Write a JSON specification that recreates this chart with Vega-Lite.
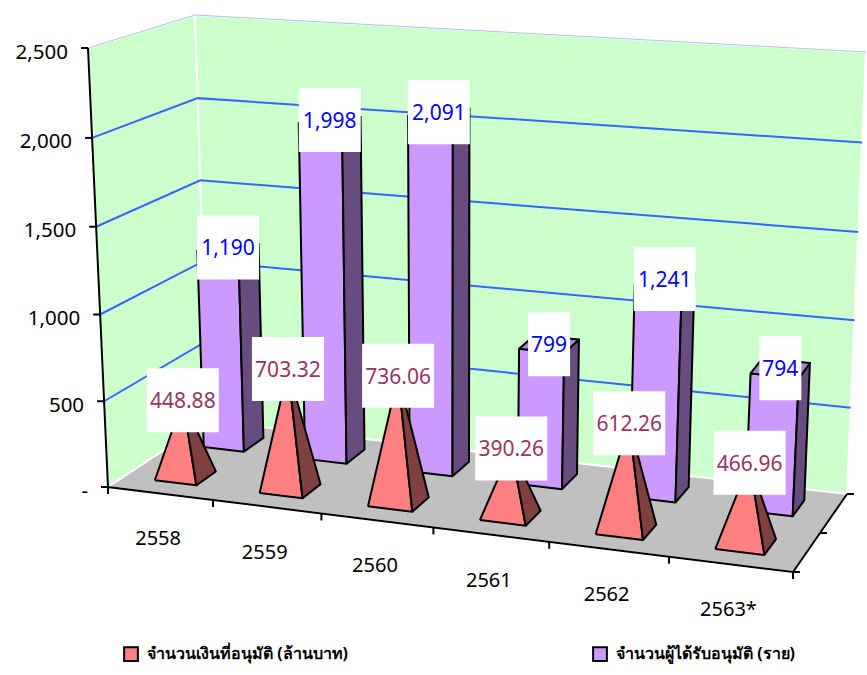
{
"$schema":"https://vega.github.io/schema/vega-lite/v6.json",
"width":867,"height":675,"padding":0,"autosize":{"type":"none"},"background":"white",
"config":{"view":{"stroke":null},"font":"Noto Sans"},
"data":{"values":[
{"part":"left wall","value":2500},{"part":"back wall","value":2500},{"part":"floor","value":2500},
{"part":"grid","value":500},{"part":"grid","value":1000},{"part":"grid","value":1500},{"part":"grid","value":2000},
{"part":"top edge","value":2500},{"part":"axis line","value":2500},
{"part":"value tick","value":0},{"part":"value tick","value":500},{"part":"value tick","value":1000},{"part":"value tick","value":1500},{"part":"value tick","value":2000},{"part":"value tick","value":2500},
{"part":"year tick","at":0},{"part":"year tick","at":1},{"part":"year tick","at":2},{"part":"year tick","at":3},{"part":"year tick","at":4},{"part":"year tick","at":5},{"part":"year tick","at":6},
{"part":"depth tick","at":0},{"part":"depth tick","at":0.5},{"part":"depth tick","at":1},
{"part":"year label","year":"2558"},{"part":"year label","year":"2559"},{"part":"year label","year":"2560"},{"part":"year label","year":"2561"},{"part":"year label","year":"2562"},{"part":"year label","year":"2563*"},
{"part":"bar","year":"2558","series":"จำนวนผู้ได้รับอนุมัติ (ราย)","value":1190},
{"part":"bar","year":"2559","series":"จำนวนผู้ได้รับอนุมัติ (ราย)","value":1998},
{"part":"bar","year":"2560","series":"จำนวนผู้ได้รับอนุมัติ (ราย)","value":2091},
{"part":"bar","year":"2561","series":"จำนวนผู้ได้รับอนุมัติ (ราย)","value":799},
{"part":"bar","year":"2562","series":"จำนวนผู้ได้รับอนุมัติ (ราย)","value":1241},
{"part":"bar","year":"2563*","series":"จำนวนผู้ได้รับอนุมัติ (ราย)","value":794},
{"part":"pyramid","year":"2558","series":"จำนวนเงินที่อนุมัติ (ล้านบาท)","value":448.88},
{"part":"pyramid","year":"2559","series":"จำนวนเงินที่อนุมัติ (ล้านบาท)","value":703.32},
{"part":"pyramid","year":"2560","series":"จำนวนเงินที่อนุมัติ (ล้านบาท)","value":736.06},
{"part":"pyramid","year":"2561","series":"จำนวนเงินที่อนุมัติ (ล้านบาท)","value":390.26},
{"part":"pyramid","year":"2562","series":"จำนวนเงินที่อนุมัติ (ล้านบาท)","value":612.26},
{"part":"pyramid","year":"2563*","series":"จำนวนเงินที่อนุมัติ (ล้านบาท)","value":466.96}
]},
"transform":[
{"calculate":"datum.year ? toNumber(substring(datum.year,0,4))-2558 : 0","as":"idx"},
{"calculate":"datum.part==='bar' ? [['F',0,0,0,0],['F',1,1,0,0],['F',2,1,0,1],['F',3,0,0,1],['F',4,0,0,0],['S',0,1,0,0],['S',1,1,1,0],['S',2,1,1,1],['S',3,1,0,1],['S',4,1,0,0],['T',0,0,0,1],['T',1,1,0,1],['T',2,1,1,1],['T',3,0,1,1],['T',4,0,0,1],['L',0,0.5,0.5,1]] : datum.part==='pyramid' ? [['F',0,0,0,0],['F',1,1,0,0],['F',2,0.5,0.5,1],['F',3,0,0,0],['S',0,1,0,0],['S',1,1,1,0],['S',2,0.5,0.5,1],['S',3,1,0,0],['L',0,0.5,0.5,1]] : datum.part==='left wall' ? [['W',0,0,0,0],['W',1,0,1,0],['W',2,0,1,1],['W',3,0,0,1],['W',4,0,0,0]] : datum.part==='back wall' ? [['W',0,0,1,0],['W',1,1,1,0],['W',2,1,1,1],['W',3,0,1,1],['W',4,0,1,0]] : datum.part==='floor' ? [['W',0,0,0,0],['W',1,1,0,0],['W',2,1,1,0],['W',3,0,1,0],['W',4,0,0,0]] : (datum.part==='grid'||datum.part==='top edge') ? [['G',0,0,0,1],['G',1,0,1,1],['G',2,1,1,1]] : datum.part==='axis line' ? [['A',0,0,0,1],['A',1,0,0,0],['A',2,1,0,0],['A',3,1,1,0]] : datum.part==='value tick' ? [['P',0,0,0,1]] : datum.part==='year tick' ? [['P',0,datum.at/6,0,0]] : datum.part==='depth tick' ? [['P',0,1,datum.at,0]] : [['P',0,(datum.idx+0.5)/6,0,0]]","as":"pt"},
{"flatten":["pt"]},
{"calculate":"datum.pt[0]","as":"pf"},
{"calculate":"datum.pt[1]","as":"ord"},
{"calculate":"(datum.part==='bar'||datum.part==='pyramid') ? datum.idx+0.3+0.4*datum.pt[2] : 6*datum.pt[2]","as":"U"},
{"calculate":"datum.part==='bar' ? 0.66+0.205*datum.pt[3] : datum.part==='pyramid' ? 0.16+0.205*datum.pt[3] : datum.pt[3]","as":"V"},
{"calculate":"((datum.value||0)*datum.pt[4])/2500","as":"hf"},
{"calculate":"(datum.U/6)/((datum.U/6)+1.105*(1-datum.U/6))","as":"s"},
{"calculate":"datum.hf/(datum.hf+1.03*(1-datum.hf))","as":"hw"},
{"calculate":"(1-datum.V)*(108+685*datum.s)+datum.V*(208+639*datum.s)","as":"bx"},
{"calculate":"(1-datum.V)*(487+85*datum.s)+datum.V*(421+73*datum.s)","as":"by"},
{"calculate":"(1-datum.V)*(88+732*datum.s)+datum.V*(195+671*datum.s)","as":"tx"},
{"calculate":"(1-datum.V)*(48+74*datum.s)+datum.V*(15+37*datum.s)","as":"ty"},
{"calculate":"datum.bx+datum.hw*(datum.tx-datum.bx)","as":"X"},
{"calculate":"datum.by+datum.hw*(datum.ty-datum.by)","as":"Y"},
{"calculate":"datum.part==='year tick' ? datum.X : datum.part==='depth tick' ? datum.X+7 : datum.X-7","as":"Xe"},
{"calculate":"datum.part==='year tick' ? datum.Y+7 : datum.Y","as":"Ye"},
{"calculate":"datum.pf==='F' ? datum.series : datum.pf==='S' ? datum.part+' side' : datum.pf==='T' ? datum.part+' top' : datum.part","as":"face"},
{"calculate":"datum.part==='pyramid' ? format(datum.value,'.2f') : datum.value===0 ? '-' : format(datum.value,',')","as":"label"},
{"calculate":"10*length(datum.label)+12","as":"bw"},
{"calculate":"datum.X-datum.bw/2","as":"bx1"},
{"calculate":"datum.X+datum.bw/2","as":"bx2"},
{"calculate":"datum.Y-32","as":"by1"},
{"calculate":"datum.Y+32","as":"by2"},
{"calculate":"datum.X-20","as":"vx"},
{"calculate":"datum.Y+4.5","as":"vy"},
{"calculate":"datum.X-2","as":"yx"},
{"calculate":"datum.Y+46","as":"yy"}
],
"encoding":{
"x":{"field":"X","type":"quantitative","scale":{"domain":[0,867],"nice":false,"zero":false},"axis":null},
"y":{"field":"Y","type":"quantitative","scale":{"domain":[675,0],"nice":false,"zero":false},"axis":null},
"order":{"field":"ord","type":"quantitative"},
"detail":{"field":"year"},
"fill":{"field":"face","type":"nominal",
 "scale":{"domain":["จำนวนเงินที่อนุมัติ (ล้านบาท)","จำนวนผู้ได้รับอนุมัติ (ราย)","pyramid side","bar side","bar top","left wall","back wall","floor"],"range":["#FF8080","#CC99FF","#804040","#664C7F","#A985D8","#CCFFCC","#CCFFCC","#C0C0C0"]},
 "legend":{"values":["จำนวนเงินที่อนุมัติ (ล้านบาท)","จำนวนผู้ได้รับอนุมัติ (ราย)"],"title":null,"orient":"none","legendX":123,"legendY":646,"direction":"horizontal","columns":2,"columnPadding":240,"symbolType":"square","symbolSize":190,"symbolStrokeColor":"black","symbolStrokeWidth":2,"labelFontSize":16,"labelFont":"Noto Sans","labelColor":"#000000","labelFontWeight":"bold","labelLimit":400,"labelOffset":8}}
},
"layer":[
{"transform":[{"filter":"datum.pf==='W'"}],"mark":{"type":"line","stroke":"white","strokeWidth":2}},
{"transform":[{"filter":"datum.part==='grid'"}],"mark":{"type":"line","stroke":"#3366FF","strokeWidth":2},"encoding":{"fill":{"value":null},"detail":{"field":"value"}}},
{"transform":[{"filter":"datum.part==='top edge'"}],"mark":{"type":"line","stroke":"#A9C0F5","strokeWidth":1},"encoding":{"fill":{"value":null},"detail":{"field":"value"}}},
{"transform":[{"filter":"datum.part==='axis line'"}],"mark":{"type":"line","stroke":"black","strokeWidth":2},"encoding":{"fill":{"value":null},"detail":{"field":"value"}}},
{"transform":[{"filter":"datum.part==='value tick'||datum.part==='year tick'||datum.part==='depth tick'"}],"mark":{"type":"rule","stroke":"black","strokeWidth":2},"encoding":{"fill":{"value":null},"order":{"value":null},"detail":{"value":null},"x2":{"field":"Xe"},"y2":{"field":"Ye"}}},
{"transform":[{"filter":"datum.part==='bar'&&datum.pf!=='L'"}],"mark":{"type":"line","stroke":"black","strokeWidth":2,"strokeJoin":"round"}},
{"transform":[{"filter":"datum.part==='pyramid'&&datum.pf!=='L'"}],"mark":{"type":"line","stroke":"black","strokeWidth":2,"strokeJoin":"round"}},
{"transform":[{"filter":"datum.pf==='L'"}],"mark":{"type":"rect"},"encoding":{"fill":{"value":"white"},"order":{"value":null},"detail":{"value":null},"x":{"field":"bx1","type":"quantitative"},"x2":{"field":"bx2"},"y":{"field":"by1","type":"quantitative"},"y2":{"field":"by2"}}},
{"transform":[{"filter":"datum.pf==='L'"}],"mark":{"type":"text","fontSize":21,"font":"Noto Sans","baseline":"middle","align":"center","dy":2},"encoding":{"fill":{"condition":{"test":"datum.part==='bar'","value":"#0000FF"},"value":"#993366"},"order":{"value":null},"detail":{"value":null},"text":{"field":"label"}}},
{"transform":[{"filter":"datum.part==='value tick'"}],"mark":{"type":"text","fontSize":20.5,"font":"Noto Sans","baseline":"middle","align":"right"},"encoding":{"fill":{"value":"black"},"order":{"value":null},"detail":{"value":null},"text":{"field":"label"},"x":{"field":"vx","type":"quantitative"},"y":{"field":"vy","type":"quantitative"}}},
{"transform":[{"filter":"datum.part==='year label'"}],"mark":{"type":"text","fontSize":20,"font":"Noto Sans","baseline":"middle","align":"center"},"encoding":{"fill":{"value":"black"},"order":{"value":null},"detail":{"value":null},"text":{"field":"year"},"x":{"field":"yx","type":"quantitative"},"y":{"field":"yy","type":"quantitative"}}}
]
}
